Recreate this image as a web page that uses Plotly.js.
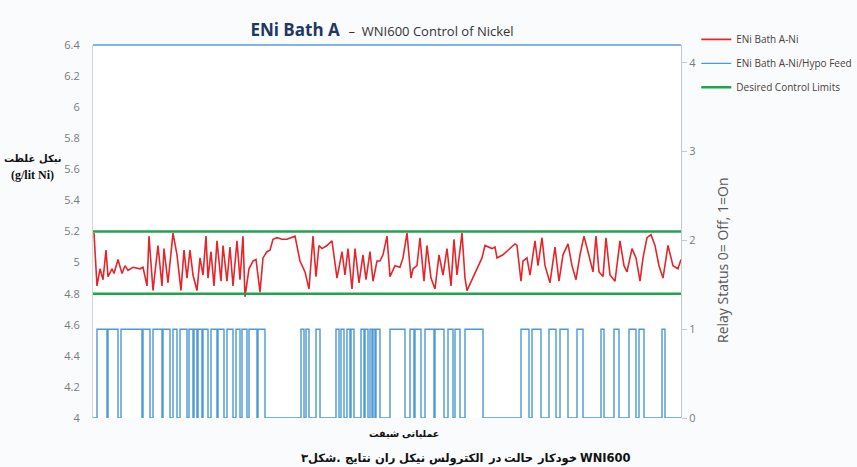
<!DOCTYPE html>
<html>
<head>
<meta charset="utf-8">
<script src="https://cdn.plot.ly/plotly-3.0.1.min.js"></script>
<style>
  html, body { margin: 0; padding: 0; background: #f9fbfd; }
  #chart { width: 857px; height: 467px; }
</style>
</head>
<body>
<div id="chart"></div>
<script>
// ---- Data ----
const nickelTime = [
  1, 4, 7, 10, 13, 15, 19, 21, 25, 29,
  32, 35, 40, 47, 50, 54, 56, 60, 65, 69,
  71, 75, 80, 84, 88, 91, 94, 97, 100, 104,
  107, 110, 113, 115, 118, 121, 124, 128, 130, 134,
  137, 140, 144, 147, 150, 152, 156, 160, 163, 167,
  170, 174, 177, 180, 184, 189, 194, 202, 207, 212,
  216, 220, 223, 226, 229, 234, 239, 244, 249, 252,
  255, 259, 262, 266, 270, 273, 277, 280, 284, 287,
  290, 294, 297, 302, 307, 310, 314, 318, 320, 324,
  327, 331, 334, 338, 342, 346, 350, 354, 358, 361,
  364, 369, 372, 374, 379, 384, 389, 392, 395, 399,
  402, 404, 410, 417, 422, 424, 428, 430, 434, 437,
  442, 445, 449, 452, 457, 462, 466, 470, 475, 479,
  483, 487, 491, 495, 500, 503, 506, 510, 513, 517,
  522, 527, 531, 534, 539, 543, 547, 550, 554, 558,
  562, 566, 570, 575, 580, 585, 588
];
const nickelValue = [
  5.19, 4.85, 4.96, 4.89, 5.08, 4.91, 4.96, 4.93, 5.02, 4.93,
  4.98, 4.95, 4.97, 4.96, 4.97, 4.85, 5.17, 4.82, 5.11, 4.85,
  5.09, 4.87, 5.19, 5.05, 4.82, 5.08, 4.90, 5.08, 4.92, 4.82,
  5.03, 4.92, 5.17, 4.90, 5.07, 4.85, 5.14, 4.88, 5.11, 4.88,
  5.10, 4.85, 5.14, 4.89, 5.17, 4.78, 4.96, 5.01, 5.02, 4.81,
  5.03, 5.07, 5.08, 5.15, 5.16, 5.15, 5.15, 5.17, 5.01, 4.94,
  4.83, 5.17, 4.91, 5.11, 5.09, 5.11, 5.14, 4.90, 5.07, 4.92,
  5.09, 4.83, 5.09, 4.87, 5.05, 4.89, 5.07, 4.88, 5.01, 5.01,
  5.05, 5.17, 4.91, 4.98, 4.97, 5.03, 5.19, 4.90, 4.96, 4.98,
  5.16, 4.88, 5.11, 4.90, 4.83, 5.05, 4.92, 5.09, 4.85, 5.15,
  4.92, 5.19, 4.90, 4.82, 4.89, 4.96, 5.03, 5.11, 5.10, 5.09,
  5.10, 5.03, 5.05, 5.09, 5.12, 5.11, 4.88, 5.01, 5.03, 4.92,
  5.14, 4.98, 5.16, 4.98, 4.87, 5.10, 4.88, 5.05, 5.12, 4.98,
  4.89, 5.05, 5.17, 5.07, 4.94, 5.17, 4.94, 4.91, 5.16, 4.92,
  4.88, 5.14, 4.98, 4.94, 5.09, 5.03, 4.88, 5.03, 5.16, 5.18,
  5.11, 4.98, 4.90, 5.11, 4.98, 4.96, 5.02
];
// Relay (hypo feed) ON periods: start and end times
const relayOnStart = [
  4, 15, 28, 50, 60, 70, 80, 87, 96, 101, 105, 110, 118, 125, 134, 143, 149, 156, 165,
  208, 213, 223, 243, 248, 254, 258, 268, 272, 277, 280, 283,
  297, 317, 322, 332, 342, 355, 362, 372,
  428, 439, 456, 467, 484, 508, 521, 536, 546, 569
];
const relayOnEnd = [
  14, 25, 49, 57, 69, 77, 84, 94, 100, 104, 109, 115, 124, 131, 140, 147, 154, 164, 172,
  211, 216, 227, 246, 251, 257, 261, 271, 275, 279, 282, 287,
  312, 321, 328, 341, 351, 360, 367, 390,
  436, 448, 463, 475, 490, 511, 526, 543, 551, 572
];
const timeRange = [0, 588];
const controlLimits = [4.8, 5.2];
const leftTicks = [4, 4.2, 4.4, 4.6, 4.8, 5, 5.2, 5.4, 5.6, 5.8, 6, 6.2, 6.4];
const rightTicks = [0, 1, 2, 3, 4];
const seriesNames = ['ENi Bath A-Ni', 'ENi Bath A-Ni/Hypo Feed', 'Desired Control Limits'];
const yTitleWords = ['غلظت', 'نیکل'];
const yTitleUnit = '(g/lit Ni)';
const xTitleWords = ['شیفت', 'عملیاتی'];
const captionWords = ['شکل۳.', 'نتایج', 'ران', 'نیکل', 'الکترولس', 'در', 'حالت', 'خودکار', 'WNI600'];

// ---- Build relay step series ----
const relayX = [timeRange[0]], relayY = [0];
for (let i = 0; i < relayOnStart.length; i++) {
  relayX.push(relayOnStart[i], relayOnStart[i], relayOnEnd[i], relayOnEnd[i]);
  relayY.push(0, 1, 1, 0);
}
relayX.push(timeRange[1]); relayY.push(0);

// ---- Control limit lines ----
const limX = [], limY = [];
controlLimits.forEach((v, i) => {
  if (i > 0) { limX.push(null); limY.push(null); }
  limX.push(timeRange[0], timeRange[1]); limY.push(v, v);
});

const traces = [
  {
    x: nickelTime, y: nickelValue, type: 'scatter', mode: 'lines',
    name: seriesNames[0], legendgroup: 'a',
    line: { color: '#e3262b', width: 1.6 }, yaxis: 'y'
  },
  {
    x: relayX, y: relayY, type: 'scatter', mode: 'lines',
    name: seriesNames[1], legendgroup: 'b',
    line: { color: '#4a9ad6', width: 1.4 }, yaxis: 'y2'
  },
  {
    x: limX, y: limY, type: 'scatter', mode: 'lines',
    name: seriesNames[2], legendgroup: 'c',
    line: { color: '#22a34f', width: 2.5 }, yaxis: 'y'
  }
];

// ---- Persian labels: words laid left-to-right as in the reference picture ----
const PL = 93, PW = 588, PB = 418, PH = 373; // plot area in pixels
const faFont = 'DejaVu Sans';
const measureCtx = document.createElement('canvas').getContext('2d');
function wordRow(words, centerPx, yPx, size) {
  measureCtx.font = 'bold ' + size + "px '" + faFont + "'";
  const space = measureCtx.measureText(' ').width;
  const widths = words.map(w => measureCtx.measureText(w).width);
  const total = widths.reduce((a, b) => a + b, 0) + space * (words.length - 1);
  let x = centerPx - total / 2;
  return words.map((w, i) => {
    const ann = {
      xref: 'paper', yref: 'paper', x: (x - PL) / PW, y: (PB - yPx) / PH,
      xanchor: 'left', yanchor: 'middle', showarrow: false, borderpad: 0,
      text: '<b>' + w + '</b>',
      font: { family: "'" + faFont + "', sans-serif", size: size, color: '#111111' }
    };
    x += widths[i] + space;
    return ann;
  });
}

const layout = {
  width: 857, height: 467,
  margin: { l: 93, r: 176, t: 45, b: 49, pad: 0, autoexpand: false },
  paper_bgcolor: '#f9fbfd',
  plot_bgcolor: '#ffffff',
  font: { family: "'Open Sans', sans-serif", color: '#767676', size: 10 },
  showlegend: true,
  title: {
    text: "<b>ENi Bath A</b>  <span style='font-size:13px;color:#333333;'>–  WNI600 Control of Nickel</span>",
    font: { family: "'Open Sans', sans-serif", size: 17, color: '#1f3864' },
    xref: 'paper', x: 0.4915, xanchor: 'center',
    yref: 'container', y: 1 - 30 / 467, yanchor: 'middle'
  },
  xaxis: {
    range: timeRange, showticklabels: false, showgrid: false, zeroline: false,
    showline: false, ticks: ''
  },
  yaxis: {
    range: [4, 6.4], tickvals: leftTicks, showgrid: false, zeroline: false,
    showline: true, linecolor: '#d4d4d4', linewidth: 1,
    ticks: 'outside', ticklen: 10, tickcolor: 'rgba(0,0,0,0)',
    tickfont: { size: 11, color: '#7a7a7a' }
  },
  yaxis2: {
    overlaying: 'y', side: 'right', range: [0, 4.2], tickvals: rightTicks,
    showgrid: false, zeroline: false,
    showline: true, linecolor: '#c8c8c8', linewidth: 1,
    ticks: 'outside', ticklen: 5, tickcolor: '#c8c8c8',
    tickfont: { size: 11, color: '#7a7a7a' }
  },
  legend: {
    x: 1.026, xanchor: 'left', y: 1.054, yanchor: 'top',
    xref: 'paper', yref: 'paper',
    bgcolor: 'rgba(0,0,0,0)',
    font: { family: "'Open Sans', sans-serif", size: 10, color: '#4a4038' },
    traceorder: 'grouped', tracegroupgap: 5, itemwidth: 30
  },
  shapes: [
    { type: 'line', xref: 'paper', yref: 'paper', x0: 0, x1: 1, y0: 1, y1: 1,
      line: { color: '#5b9bd5', width: 1.5 } }
  ],
  annotations: [
    ...wordRow(yTitleWords, 32, 158, 10),
    { // unit line of left axis title
      xref: 'paper', yref: 'paper', x: (32 - PL) / PW, y: (PB - 175) / PH,
      xanchor: 'center', yanchor: 'middle', showarrow: false,
      text: '<b>' + yTitleUnit + '</b>',
      font: { family: "'Liberation Serif', serif", size: 12, color: '#111111' }
    },
    { // right axis title
      xref: 'paper', yref: 'paper', x: (722 - PL) / PW, y: (PB - 260) / PH,
      xanchor: 'center', yanchor: 'middle', showarrow: false, textangle: -90,
      text: 'Relay Status 0= Off, 1=On',
      font: { family: "'Open Sans', sans-serif", size: 14, color: '#595959' }
    },
    ...wordRow(xTitleWords, 403, 433, 9.5),
    ...wordRow(captionWords, 465, 458, 11.5)
  ]
};

Plotly.newPlot('chart', traces, layout, { displayModeBar: false, staticPlot: true });
</script>
</body>
</html>
